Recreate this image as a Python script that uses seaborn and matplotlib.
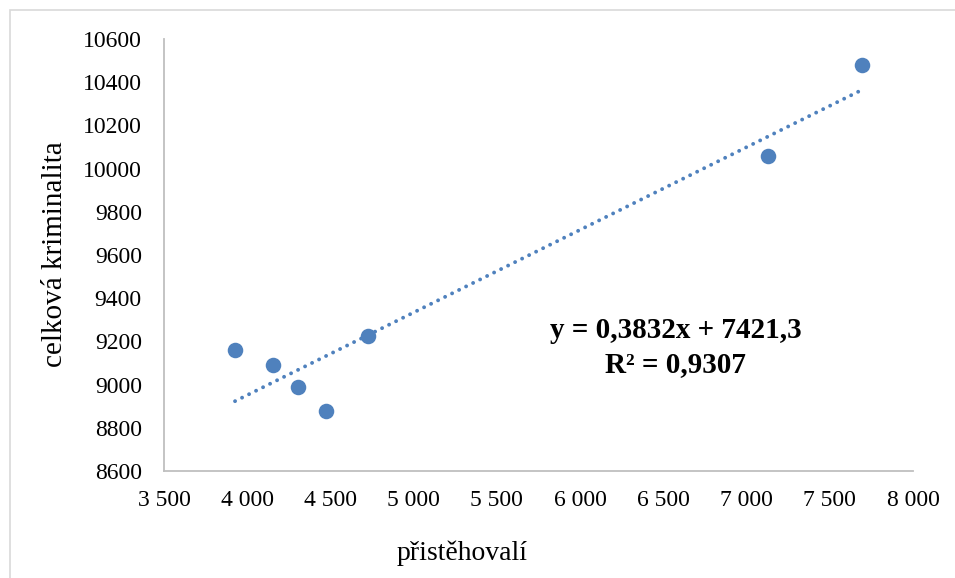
# Scatter of immigrants vs. total crime with a linear trend line
import numpy as np
import pandas as pd
import matplotlib.pyplot as plt
import matplotlib.ticker as mticker
from matplotlib.patches import Rectangle
import seaborn as sns

# Data
pristehovali = [3927, 4157, 4305, 4474, 4728, 7126, 7695]
kriminalita = [9158, 9089, 8990, 8876, 9224, 10060, 10481]
x_ticks = [3500, 4000, 4500, 5000, 5500, 6000, 6500, 7000, 7500, 8000]
y_ticks = [8600, 8800, 9000, 9200, 9400, 9600, 9800, 10000, 10200, 10400, 10600]
rovnice = "y = 0,3832x + 7421,3"
r2_text = "R² = 0,9307"

df = pd.DataFrame({"pristehovali": pristehovali, "kriminalita": kriminalita})

sns.set_theme(style="white")
plt.rcParams["font.family"] = ["Liberation Serif", "DejaVu Serif"]

blue = "#4F81BD"
grey = "#BFBFBF"

fig = plt.figure(figsize=(9.55, 5.78), dpi=100)
ax = fig.add_axes([0.1717, 0.1851, 0.956 - 0.1717, 0.9325 - 0.1851])

# outer chart border (top and left visible, rest is cut off)
fig.patches.append(Rectangle((10 / 955, -0.1), 1.2, 1 - 10 / 578 + 0.1,
                             transform=fig.transFigure, fill=False,
                             edgecolor="#D9D9D9", linewidth=1.2))

# trend line
sns.regplot(data=df, x="pristehovali", y="kriminalita", ax=ax, scatter=False,
            ci=None, truncate=True, color=blue,
            line_kws={"linestyle": (0, (0.01, 2.0)), "linewidth": 2.8,
                      "dash_capstyle": "round"})
# points
sns.scatterplot(data=df, x="pristehovali", y="kriminalita", ax=ax,
                color=blue, s=125, linewidth=0, zorder=3)

ax.set_xlim(3500, 8000)
ax.set_ylim(8600, 10600)
ax.set_xticks(x_ticks)
ax.set_yticks(y_ticks)
ax.xaxis.set_major_formatter(mticker.FuncFormatter(
    lambda v, p: f"{int(v):,}".replace(",", " ")))
ax.tick_params(axis="x", length=0, pad=14, labelsize=17, colors="black")
ax.tick_params(axis="y", length=0, pad=16, labelsize=17, colors="black")

for side in ["top", "right"]:
    ax.spines[side].set_visible(False)
for side in ["left", "bottom"]:
    ax.spines[side].set_color(grey)
    ax.spines[side].set_linewidth(1.3)

ax.set_xlabel("")
ax.set_ylabel("")
fig.text(462 / 955, 1 - 553 / 578, "přistěhovalí", ha="center", va="center",
         fontsize=20, color="black")
fig.text(55 / 955, 1 - 254 / 578, "celková kriminalita", ha="center",
         va="center", rotation=90, fontsize=21, color="black")

# trend equation
fig.text(676 / 955, 1 - 331 / 578, rovnice, ha="center", va="center",
         fontsize=21, fontweight="bold", color="black")
fig.text(675 / 955, 1 - 365 / 578, r2_text, ha="center", va="center",
         fontsize=21, fontweight="bold", color="black")

plt.savefig("out.png", dpi=100)
